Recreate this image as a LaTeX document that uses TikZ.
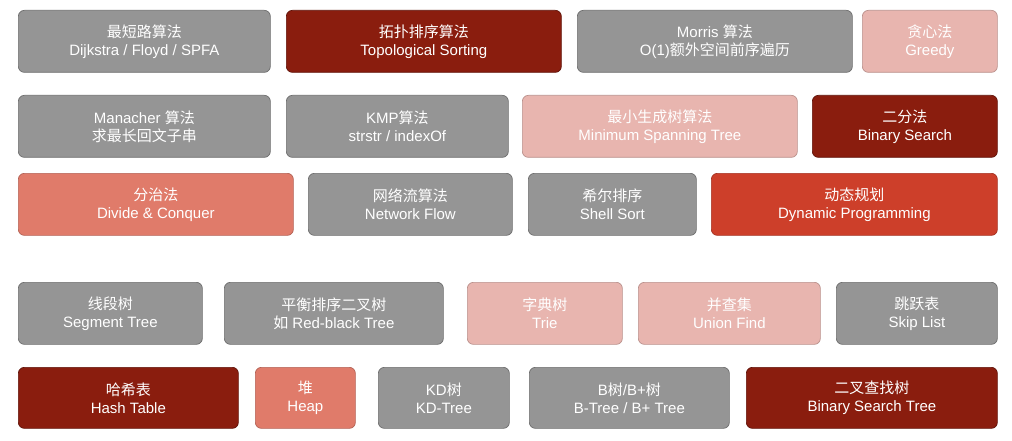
\documentclass[tikz,border=0pt]{standalone}
\usepackage{fontspec}
\setmainfont{Liberation Sans}
\newfontfamily\cjk{Noto Sans CJK SC}
\definecolor{cg}{HTML}{959595}
\definecolor{cgb}{HTML}{6E6E6E}
\definecolor{cdr}{HTML}{8A1D0E}
\definecolor{cpk}{HTML}{E8B5AF}
\definecolor{csl}{HTML}{E07B6A}
\definecolor{cor}{HTML}{CD3F2A}
\tikzset{
 bx/.style={draw=cgb, line width=0.7pt, rounded corners=6pt, text=white, align=center, font=\fontsize{15}{18}\selectfont, inner sep=0pt},
 g/.style={bx, fill=cg}, dr/.style={bx, fill=cdr, draw=cdr!70!black}, pk/.style={bx, fill=cpk, draw=cpk!80!black},
 sl/.style={bx, fill=csl, draw=csl!80!black}, orr/.style={bx, fill=cor, draw=cor!80!black}
}
\newcommand{\bxat}[6]{\node[#1, minimum width=#4pt-#2pt, minimum height=#5pt-#3pt] at ({(#2+#4)/2*1pt}, {-(#3+#5)/2*1pt}) (#6) {\usebox0};}
\newcommand{\B}[7]{\node[#1, minimum width={(#4-#2)*1pt}, minimum height={(#5-#3)*1pt}, anchor=north west] (#6) at (#2pt,-#3pt) {#7};}
\begin{document}
\begin{tikzpicture}
\useasboundingbox (0,0) rectangle (1012pt,-441pt);
\B{g}{18}{10}{270}{72}{a1}{{\cjk 最短路算法}\\Dijkstra / Floyd / SPFA}
\B{dr}{286}{10}{561}{72}{a2}{{\cjk 拓扑排序算法}\\Topological Sorting}
\B{g}{577}{10}{852}{72}{a3}{Morris {\cjk 算法}\\O(1){\cjk 额外空间前序遍历}}
\B{pk}{862}{10}{997}{72}{a4}{{\cjk 贪心法}\\Greedy}
\B{g}{18}{95}{270}{157}{b1}{Manacher {\cjk 算法}\\{\cjk 求最长回文子串}}
\B{g}{286}{95}{508}{157}{b2}{KMP{\cjk 算法}\\strstr / indexOf}
\B{pk}{522}{95}{797}{157}{b3}{{\cjk 最小生成树算法}\\Minimum Spanning Tree}
\B{dr}{812}{95}{997}{157}{b4}{{\cjk 二分法}\\Binary Search}
\B{sl}{18}{173}{293}{235}{c1}{{\cjk 分治法}\\Divide \& Conquer}
\B{g}{308}{173}{512}{235}{c2}{{\cjk 网络流算法}\\Network Flow}
\B{g}{528}{173}{696}{235}{c3}{{\cjk 希尔排序}\\Shell Sort}
\B{orr}{711}{173}{997}{235}{c4}{{\cjk 动态规划}\\Dynamic Programming}
\B{g}{18}{282}{202}{344}{d1}{{\cjk 线段树}\\Segment Tree}
\B{g}{224}{282}{443}{344}{d2}{{\cjk 平衡排序二叉树}\\{\cjk 如} Red-black Tree}
\B{pk}{467}{282}{622}{344}{d3}{{\cjk 字典树}\\Trie}
\B{pk}{638}{282}{820}{344}{d4}{{\cjk 并查集}\\Union Find}
\B{g}{836}{282}{997}{344}{d5}{{\cjk 跳跃表}\\Skip List}
\B{dr}{18}{367}{238}{428}{e1}{{\cjk 哈希表}\\Hash Table}
\B{sl}{255}{367}{355}{428}{e2}{{\cjk 堆}\\Heap}
\B{g}{378}{367}{509}{428}{e3}{KD{\cjk 树}\\KD-Tree}
\B{g}{529}{367}{729}{428}{e4}{B{\cjk 树}/B+{\cjk 树}\\B-Tree / B+ Tree}
\B{dr}{746}{367}{997}{428}{e5}{{\cjk 二叉查找树}\\Binary Search Tree}
\end{tikzpicture}
\end{document}
